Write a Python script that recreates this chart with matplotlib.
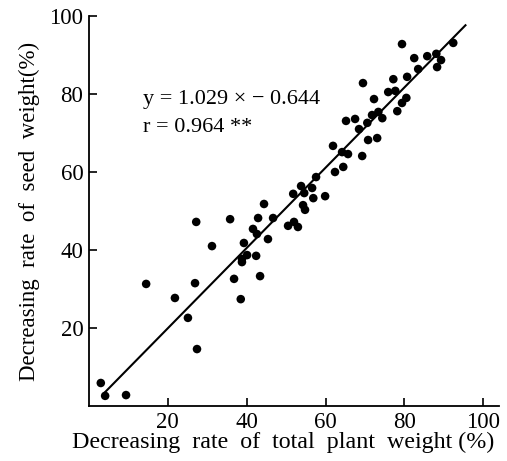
import matplotlib
matplotlib.use("Agg")
import matplotlib.pyplot as plt
import numpy as np

# total plant weight decrease (%) vs seed weight decrease (%)
plant = [3.0, 4.1, 9.4, 14.5, 21.8, 26.9, 25.1, 27.4, 36.8, 38.5, 43.4,
         27.2, 35.8, 31.2, 39.3, 38.8, 40.1, 42.4, 38.8, 41.6, 42.6, 42.9,
         44.4, 45.4, 46.7, 50.5, 52.0, 53.0, 51.8, 53.8, 54.6, 54.8, 54.3,
         56.9, 56.6, 57.6, 59.9, 62.4, 61.9, 64.2, 65.7, 64.5, 69.3, 65.2,
         67.5, 68.5, 70.6, 70.8, 73.1, 71.8, 72.3, 73.4, 74.4, 69.5, 75.9,
         77.7, 77.2, 80.7, 78.2, 79.4, 80.5, 83.5, 79.4, 82.5, 85.8, 88.1,
         89.3, 88.3, 92.4]
seed = [5.9, 2.6, 2.8, 31.3, 27.7, 31.5, 22.6, 14.6, 32.6, 27.4, 33.3,
        47.2, 47.9, 41.0, 41.8, 37.7, 38.7, 38.5, 36.9, 45.4, 44.1, 48.2,
        51.8, 42.8, 48.2, 46.2, 47.2, 45.9, 54.4, 56.4, 54.6, 50.3, 51.5,
        53.3, 55.9, 58.7, 53.8, 60.0, 66.7, 65.1, 64.6, 61.3, 64.1, 73.1,
        73.6, 71.0, 72.6, 68.2, 68.7, 74.6, 78.7, 75.4, 73.8, 82.8, 80.5,
        80.8, 83.8, 84.4, 75.6, 77.7, 79.0, 86.4, 92.8, 89.2, 89.7, 90.3,
        88.7, 86.9, 93.1]

slope, intercept = 1.029, -0.644
line_x = [4.0, 95.5]

plt.rcParams['font.family'] = ['Liberation Serif', 'DejaVu Serif']

fig = plt.figure(figsize=(5.07, 4.61), dpi=100)
ax = fig.add_axes([0.1755, 0.1193, 0.8087, 0.846])

ax.scatter(plant, seed, s=38, c='black', edgecolors='none', zorder=3)
lx = np.array(line_x)
ax.plot(lx, slope * lx + intercept, color='black', lw=1.5)

ax.set_xlim(0, 104)
ax.set_ylim(0, 100)
ax.set_xticks([20, 40, 60, 80, 100])
ax.set_yticks([20, 40, 60, 80, 100])
ax.spines['top'].set_visible(False)
ax.spines['right'].set_visible(False)
for s in ['left', 'bottom']:
    ax.spines[s].set_linewidth(1.3)
ax.tick_params(direction='in', length=6, width=1.2, labelsize=16.5, pad=4)

ax.text(13.7, 78.5, "y = 1.029 × − 0.644", fontsize=16, va='center')
ax.text(13.7, 71.5, "r = 0.964 **", fontsize=16, va='center')

ax.set_xlabel("Decreasing  rate  of  total  plant  weight (%)", fontsize=17.3)
ax.xaxis.set_label_coords(0.473, -0.065)
ax.set_ylabel("Decreasing  rate  of  seed  weight(%)", fontsize=16.5, labelpad=7)

fig.savefig("out.png", dpi=100)
